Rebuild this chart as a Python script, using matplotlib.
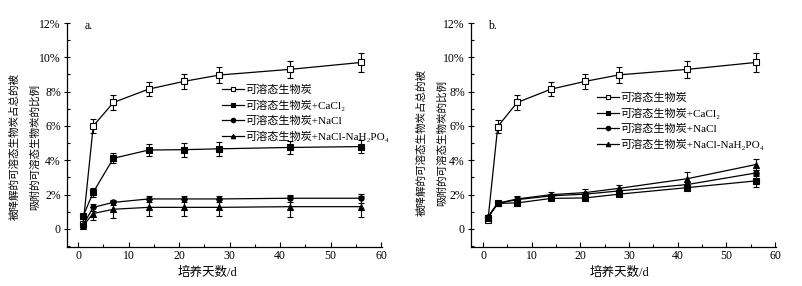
import matplotlib
matplotlib.use("Agg")
import matplotlib.pyplot as plt
from matplotlib.lines import Line2D
from matplotlib.ticker import MultipleLocator, FuncFormatter

plt.rcParams['font.family'] = ['Liberation Serif', 'DejaVu Serif', 'Noto Sans CJK SC']

days = [1, 3, 7, 14, 21, 28, 42, 56]
labels = ['可溶态生物炭', '可溶态生物炭+CaCl₂', '可溶态生物炭+NaCl', '可溶态生物炭+NaCl-NaH₂PO₄']
markers = ['s', 's', 'o', '^']
faces = ['white', 'black', 'black', 'black']

# Panel a values (%)
a_soluble = [0.3, 6.0, 7.37, 8.15, 8.6, 8.97, 9.3, 9.7]
a_soluble_err = [0.1, 0.4, 0.45, 0.4, 0.45, 0.45, 0.5, 0.55]
a_cacl2 = [0.75, 2.14, 4.12, 4.6, 4.62, 4.67, 4.75, 4.8]
a_cacl2_err = [0.15, 0.25, 0.3, 0.35, 0.4, 0.4, 0.4, 0.4]
a_nacl = [0.25, 1.26, 1.55, 1.75, 1.75, 1.75, 1.79, 1.79]
a_nacl_err = [0.1, 0.2, 0.15, 0.2, 0.2, 0.2, 0.2, 0.25]
a_nap = [0.2, 0.9, 1.15, 1.26, 1.26, 1.26, 1.3, 1.3]
a_nap_err = [0.1, 0.4, 0.5, 0.5, 0.5, 0.5, 0.6, 0.6]

# Panel b values (%)
b_soluble = [0.55, 5.97, 7.37, 8.15, 8.6, 8.98, 9.3, 9.7]
b_soluble_err = [0.1, 0.4, 0.45, 0.4, 0.45, 0.45, 0.5, 0.55]
b_cacl2 = [0.65, 1.49, 1.52, 1.78, 1.81, 2.03, 2.41, 2.8]
b_cacl2_err = [0.1, 0.1, 0.12, 0.1, 0.1, 0.1, 0.12, 0.35]
b_nacl = [0.7, 1.49, 1.71, 1.93, 2.03, 2.22, 2.59, 3.26]
b_nacl_err = [0.1, 0.1, 0.15, 0.12, 0.15, 0.15, 0.15, 0.2]
b_nap = [0.72, 1.5, 1.75, 2.0, 2.12, 2.37, 2.93, 3.75]
b_nap_err = [0.1, 0.1, 0.15, 0.15, 0.2, 0.2, 0.4, 0.3]

panel_a = [(a_soluble, a_soluble_err), (a_cacl2, a_cacl2_err), (a_nacl, a_nacl_err), (a_nap, a_nap_err)]
panel_b = [(b_soluble, b_soluble_err), (b_cacl2, b_cacl2_err), (b_nacl, b_nacl_err), (b_nap, b_nap_err)]

fig = plt.figure(figsize=(8.02, 2.86), dpi=100)
W, H = 802.0, 286.0

def px_axes(l, r, t, b):
    return fig.add_axes([l / W, 1 - b / H, (r - l) / W, (b - t) / H])

ax_a = px_axes(67, 382, 23, 247)
ax_b = px_axes(471, 776, 23, 247)

def pct(v, pos):
    if abs(v) < 1e-9:
        return '0'
    return '%d%%' % round(v)

def style(ax, xmin, tag):
    ax.set_xlim(xmin, 60.2)
    ax.set_ylim(-1.05, 12)
    for s in ['top', 'right']:
        ax.spines[s].set_visible(False)
    for s in ['left', 'bottom']:
        ax.spines[s].set_linewidth(0.9)
    ax.xaxis.set_major_locator(MultipleLocator(10))
    ax.xaxis.set_minor_locator(MultipleLocator(5))
    ax.yaxis.set_major_locator(MultipleLocator(2))
    ax.yaxis.set_minor_locator(MultipleLocator(1))
    ax.yaxis.set_major_formatter(FuncFormatter(pct))
    ax.tick_params(axis='x', which='major', direction='in', length=3.5, width=0.8, labelsize=8.5, pad=2)
    ax.tick_params(axis='x', which='minor', direction='in', length=2.2, width=0.8)
    ax.tick_params(axis='y', which='major', direction='inout', length=5, width=0.8, labelsize=8.5, pad=2)
    ax.tick_params(axis='y', which='minor', direction='in', length=2.5, width=0.8)
    ax.text(0.055, 0.985, tag, transform=ax.transAxes, fontsize=8.5, va='center', ha='left')

for ax, data, tag, xmin in [(ax_a, panel_a, 'a.', -2.2), (ax_b, panel_b, 'b.', -2.5)]:
    handles = []
    for (vals, errs), m, fc, lab in zip(data, markers, faces, labels):
        ax.errorbar(days, vals, yerr=errs, color='black', lw=0.9, marker=m, ms=3.8,
                    mfc=fc, mec='black', mew=0.8, capsize=2.2, elinewidth=0.8, capthick=0.8)
        handles.append(Line2D([0], [0], color='black', lw=0.9, marker=m, ms=3.2, mfc=fc,
                              mec='black', mew=0.8, label=lab))
    style(ax, xmin, tag)
    if ax is ax_a:
        anchor = ((222 - 67) / 315.0, (247 - 85) / 224.0)
    else:
        anchor = ((597 - 471) / 305.0, (247 - 93) / 224.0)
    ax.legend(handles=handles, loc='upper left', bbox_to_anchor=anchor, frameon=False,
              fontsize=8, handlelength=2.0, handletextpad=0.1, labelspacing=0.42,
              borderpad=0, borderaxespad=0)

ylab1 = '被降解的可溶态生物炭占总的被'
ylab2 = '吸附的可溶态生物炭的比例'
for x1, x2, yc in [(15, 35, 147), (422, 442, 143)]:
    fig.text(x1 / W, 1 - yc / H, ylab1, rotation=90, ha='center', va='center', fontsize=7.6)
    fig.text(x2 / W, 1 - yc / H, ylab2, rotation=90, ha='center', va='center', fontsize=7.6)

fig.text(207 / W, 1 - 273 / H, '培养天数/d', ha='center', va='center', fontsize=9)
fig.text(619 / W, 1 - 273 / H, '培养天数/d', ha='center', va='center', fontsize=9)

fig.savefig('out.png', dpi=100)
